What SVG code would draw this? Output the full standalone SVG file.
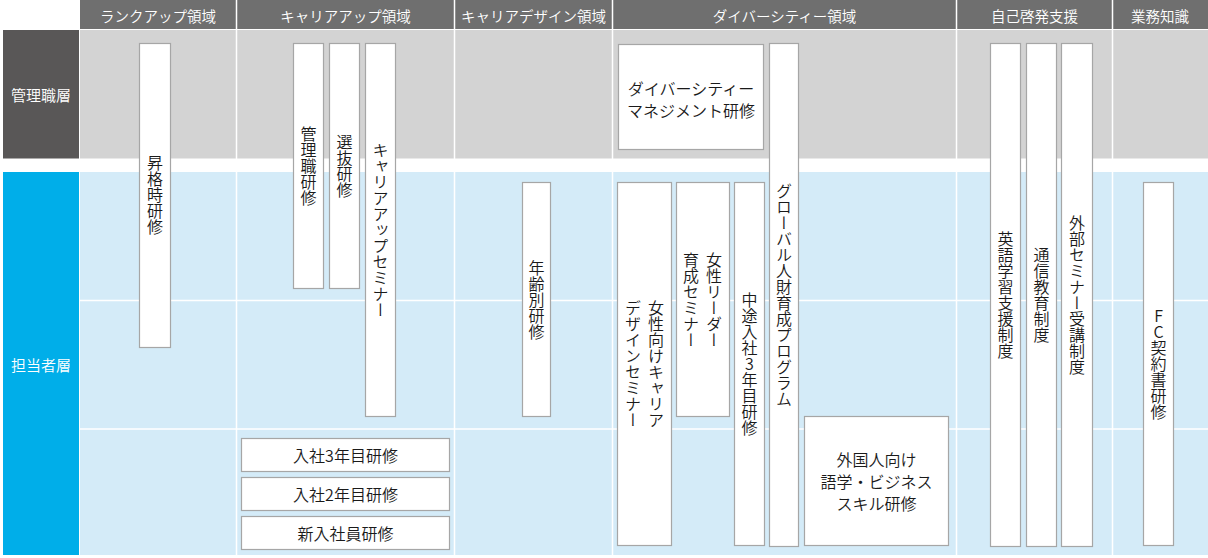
<svg xmlns="http://www.w3.org/2000/svg" width="1208" height="558" viewBox="0 0 1208 558">
<style>
text{font-family:"Noto Sans CJK JP","Noto Sans",sans-serif;font-weight:350;}
.hd{fill:#ffffff;font-size:14.5px;text-anchor:middle;dominant-baseline:central;}
.lb{fill:#ffffff;font-size:15px;text-anchor:middle;dominant-baseline:central;}
.bx{fill:#ffffff;stroke:#a6a6a6;stroke-width:1.2;}
.t{fill:#1a1a1a;font-size:16px;text-anchor:middle;dominant-baseline:central;}
.v{fill:#1a1a1a;font-size:16px;text-anchor:middle;writing-mode:vertical-rl;text-orientation:upright;}
.gl{stroke:#ffffff;stroke-width:1.5;fill:none;}
</style>
<rect x="0" y="0" width="1208" height="558" fill="#ffffff"/>
<g id="background">
<rect x="80" y="0" width="1128" height="29" fill="#6f6f6f"/>
<rect x="80" y="30" width="1128" height="128.5" fill="#d3d3d3"/>
<rect x="80" y="172" width="1128" height="383" fill="#d4ebf8"/>
<path class="gl" d="M236.5 0V558M454.5 0V558M612.5 0V558M956.5 0V558M1112.5 0V558M79 300.5H1208M79 429H1208"/>
</g>
<g id="header">
<text class="hd" x="158" y="15">ランクアップ領域</text>
<text class="hd" x="345.5" y="15">キャリアアップ領域</text>
<text class="hd" x="533.5" y="15">キャリアデザイン領域</text>
<text class="hd" x="784.5" y="15">ダイバーシティー領域</text>
<text class="hd" x="1034.5" y="15">自己啓発支援</text>
<text class="hd" x="1160" y="15">業務知識</text>
</g>
<g id="row-kanrishoku">
<rect x="3" y="30" width="76" height="128.5" fill="#595757"/>
<text class="lb" x="41" y="94">管理職層</text>
</g>
<g id="row-tantosha">
<rect x="3" y="172" width="76" height="383" fill="#00aee9"/>
<text class="lb" x="41" y="364">担当者層</text>
</g>
<g id="connectors"></g>
<g id="n-shokaku"><rect class="bx" x="139.5" y="43.5" width="31" height="304"/><text class="v" x="155" y="195">昇格時研修</text></g>
<g id="n-kanrishoku"><rect class="bx" x="293.5" y="43.5" width="30" height="245"/><text class="v" x="308.5" y="166">管理職研修</text></g>
<g id="n-senbatsu"><rect class="bx" x="329.5" y="43.5" width="30" height="245"/><text class="v" x="344.5" y="166">選抜研修</text></g>
<g id="n-careerup"><rect class="bx" x="365.5" y="43.5" width="30" height="373"/><text class="v" x="380.5" y="230">キャリアアップセミナー</text></g>
<g id="n-nenrei"><rect class="bx" x="522.5" y="182.5" width="28" height="234"/><text class="v" x="536.5" y="299.5">年齢別研修</text></g>
<g id="n-diversity"><rect class="bx" x="618.5" y="44.5" width="145" height="105"/><text class="t" x="691" y="88">ダイバーシティー</text><text class="t" x="691" y="110">マネジメント研修</text></g>
<g id="n-global"><rect class="bx" x="769.5" y="43.5" width="29" height="503"/><text class="v" x="784" y="295">グローバル人財育成プログラム</text></g>
<g id="n-josei-career"><rect class="bx" x="617.5" y="182.5" width="54" height="363"/><text class="v" x="656" y="364">女性向けキャリア</text><text class="v" x="633" y="364">デザインセミナー</text></g>
<g id="n-josei-leader"><rect class="bx" x="676.5" y="182.5" width="53" height="234"/><text class="v" x="714" y="299.5">女性リーダー</text><text class="v" x="691" y="299.5">育成セミナー</text></g>
<g id="n-chuto"><rect class="bx" x="734.5" y="182.5" width="30" height="363"/><text class="v" x="749.5" y="364">中途入社3年目研修</text></g>
<g id="n-gaikoku"><rect class="bx" x="804.5" y="416.5" width="144" height="129"/><text class="t" x="876.5" y="459">外国人向け</text><text class="t" x="876.5" y="481">語学・ビジネス</text><text class="t" x="876.5" y="503">スキル研修</text></g>
<g id="n-eigo"><rect class="bx" x="990.5" y="43.5" width="30" height="503"/><text class="v" x="1005.5" y="295">英語学習支援制度</text></g>
<g id="n-tsushin"><rect class="bx" x="1026.5" y="43.5" width="30" height="503"/><text class="v" x="1041.5" y="295">通信教育制度</text></g>
<g id="n-gaibu"><rect class="bx" x="1061.5" y="43.5" width="31" height="503"/><text class="v" x="1077" y="295">外部セミナー受講制度</text></g>
<g id="n-fc"><rect class="bx" x="1143.5" y="182.5" width="30" height="363"/><text class="v" x="1158.5" y="364">FC契約書研修</text></g>
<g id="n-nyusha3"><rect class="bx" x="241.5" y="438.5" width="208" height="33"/><text class="t" x="345.5" y="455">入社3年目研修</text></g>
<g id="n-nyusha2"><rect class="bx" x="241.5" y="477.5" width="208" height="33"/><text class="t" x="345.5" y="494">入社2年目研修</text></g>
<g id="n-shinnyu"><rect class="bx" x="241.5" y="516.5" width="208" height="33"/><text class="t" x="345.5" y="533">新入社員研修</text></g>
</svg>
